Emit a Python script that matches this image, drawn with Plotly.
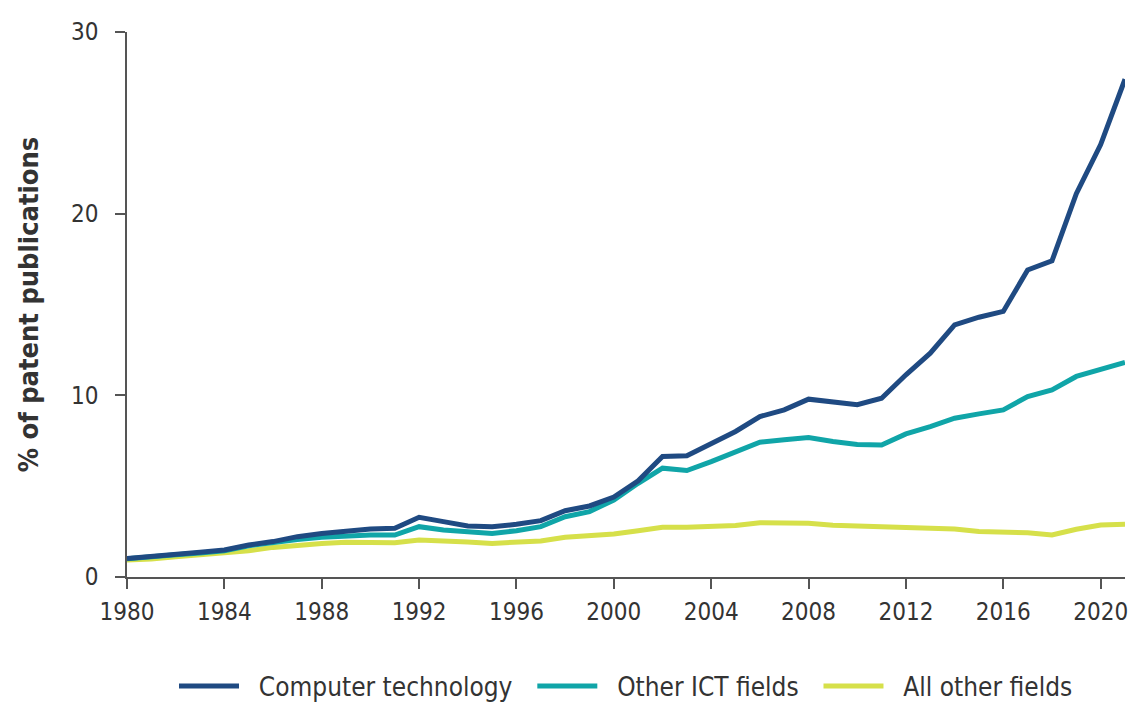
import plotly.graph_objects as go

years = list(range(1980, 2022))

computer_tech = [1.02, 1.12, 1.27, 1.36, 1.49, 1.76, 1.95, 2.22, 2.40, 2.55,
                 2.64, 2.68, 3.29, 3.05, 2.81, 2.77, 2.90, 3.10, 3.65, 3.91,
                 4.40, 5.30, 6.63, 6.67, 7.37, 8.01, 8.83, 9.20, 9.79, 9.66,
                 9.48, 9.84, 11.13, 12.32, 13.88, 14.30, 14.62, 16.90, 17.40, 21.10,
                 23.80, 27.40]

other_ict = [1.00, 1.08, 1.22, 1.32, 1.45, 1.72, 1.90, 2.07, 2.19, 2.28,
             2.31, 2.31, 2.77, 2.59, 2.48, 2.40, 2.55, 2.77, 3.32, 3.60,
             4.24, 5.16, 5.99, 5.86, 6.35, 6.85, 7.42, 7.55, 7.68, 7.46,
             7.29, 7.27, 7.88, 8.28, 8.74, 8.98, 9.20, 9.93, 10.30, 11.04,
             11.40, 11.81]

all_other = [0.94, 0.99, 1.12, 1.21, 1.30, 1.45, 1.63, 1.76, 1.85, 1.91,
             1.91, 1.89, 2.04, 2.00, 1.93, 1.85, 1.89, 1.98, 2.19, 2.26,
             2.37, 2.55, 2.74, 2.74, 2.77, 2.83, 2.99, 2.99, 2.96, 2.85,
             2.81, 2.77, 2.68, 2.68, 2.64, 2.50, 2.46, 2.44, 2.31, 2.63,
             2.86, 2.90]

series_names = ["Computer technology", "Other ICT fields", "All other fields"]
series_colors = ["#1f4a82", "#10a5a8", "#d6e04a"]
x_ticks = list(range(1980, 2021, 4))
y_ticks = [0, 10, 20, 30]

FONT = "DejaVu Sans Condensed, Liberation Sans Narrow, Roboto Condensed, sans-serif"
NB = "\u00a0"

fig = go.Figure()
# draw lower series first so darker lines sit on top
series = list(zip(series_names, [computer_tech, other_ict, all_other], series_colors))
for i in reversed(range(len(series))):
    name, vals, col = series[i]
    label = NB * 2 + name + (NB * 2 if i < len(series) - 1 else "")
    fig.add_trace(go.Scatter(x=years, y=vals, mode="lines", name=label,
                             line=dict(color=col, width=5)))

fig.update_layout(
    width=1128, height=710,
    paper_bgcolor="white", plot_bgcolor="white",
    margin=dict(l=119, r=8, t=24, b=141),
    font=dict(family=FONT, size=24, color="#333333"),
    showlegend=True,
    legend=dict(orientation="h", x=0.5, xanchor="center", y=-0.2, yanchor="middle",
                traceorder="reversed", font=dict(size=26, color="#333333"),
                itemwidth=60),
)
fig.update_xaxes(range=[1980, 2021], tickvals=x_ticks, ticktext=[str(t) for t in x_ticks],
                 showgrid=False, zeroline=False, showline=True, linecolor="#555555",
                 linewidth=1.5, ticks="outside", ticklen=10, tickcolor="#555555",
                 tickwidth=1.5, tickfont=dict(size=24), ticklabelstandoff=2)
fig.update_yaxes(range=[0, 30], tickvals=y_ticks, showgrid=False, zeroline=False,
                 showline=True, linecolor="#555555", linewidth=1.5, ticks="outside",
                 ticklen=10, tickcolor="#555555", tickwidth=1.5, tickfont=dict(size=24),
                 ticklabelstandoff=12,
                 title=dict(text="<b>% of patent publications</b>", font=dict(size=27, color="#333333"),
                            standoff=25))

fig.write_html("out.html")
